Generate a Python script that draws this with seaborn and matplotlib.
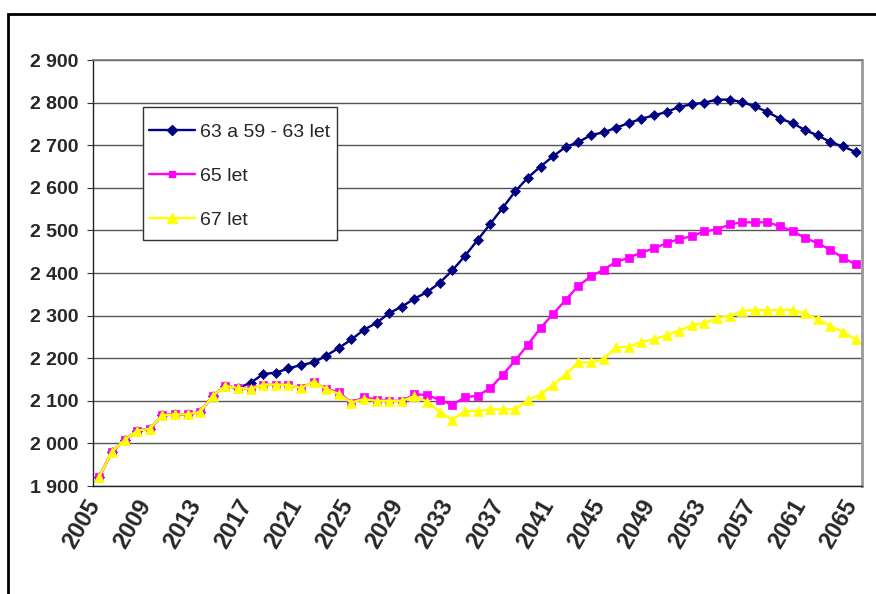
import numpy as np
import pandas as pd
import matplotlib
matplotlib.use("Agg")
import matplotlib.pyplot as plt
import matplotlib.transforms as mtransforms
from matplotlib.patches import Rectangle
from matplotlib.lines import Line2D
from matplotlib.ticker import FuncFormatter, FixedLocator
import seaborn as sns

# Years on the category axis
years = list(range(2005, 2066))

# Series values (thousands)
s_63 = [1922, 1980, 2008, 2030, 2034, 2066, 2068, 2068, 2074, 2112,
        2135, 2130, 2142, 2163, 2166, 2176, 2184, 2190, 2206, 2224,
        2244, 2267, 2283, 2306, 2321, 2340, 2355, 2377, 2406, 2440,
        2477, 2515, 2553, 2592, 2624, 2650, 2674, 2696, 2707, 2724,
        2730, 2741, 2752, 2762, 2770, 2778, 2790, 2796, 2800, 2807,
        2807, 2801, 2791, 2778, 2762, 2752, 2735, 2723, 2707, 2697,
        2684]
s_65 = [1922, 1980, 2008, 2030, 2034, 2066, 2068, 2068, 2074, 2112,
        2135, 2130, 2128, 2138, 2138, 2137, 2130, 2145, 2128, 2120,
        2096, 2108, 2103, 2100, 2100, 2115, 2114, 2102, 2091, 2108,
        2112, 2129, 2161, 2195, 2232, 2271, 2304, 2337, 2370, 2392,
        2408, 2426, 2436, 2448, 2458, 2470, 2480, 2486, 2498, 2502,
        2514, 2519, 2519, 2519, 2510, 2498, 2482, 2470, 2454, 2436,
        2420]
s_67 = [1922, 1980, 2008, 2030, 2034, 2066, 2068, 2068, 2074, 2112,
        2135, 2130, 2128, 2138, 2138, 2137, 2130, 2145, 2128, 2116,
        2096, 2104, 2100, 2100, 2100, 2111, 2098, 2074, 2055, 2076,
        2076, 2080, 2080, 2080, 2102, 2115, 2137, 2162, 2190, 2190,
        2198, 2226, 2226, 2239, 2244, 2254, 2265, 2277, 2283, 2294,
        2299, 2311, 2313, 2313, 2313, 2313, 2305, 2291, 2276, 2261,
        2244]

series_names = ["63 a 59 - 63 let", "65 let", "67 let"]
year_labels = list(range(2005, 2066, 4))
y_ticks = list(range(1900, 2901, 100))

colors = ["#000080", "#FF00FF", "#FFFF00"]
markers = ["D", "s", "^"]
marker_sizes = [5.4, 5.8, 7.8]

sns.set_style("white")
plt.rcParams["font.family"] = ["Liberation Sans", "DejaVu Sans"]

W, H = 876, 594
fig = plt.figure(figsize=(W / 100, H / 100), dpi=100)
left, right, top, bottom = 93, 862, 60, 486
ax = fig.add_axes([left / W, 1 - bottom / H, (right - left) / W, (bottom - top) / H])


def ax_x(px):
    return (px - left) / (right - left)


def ax_y(py):
    return (bottom - py) / (bottom - top)


df = pd.DataFrame({
    "year": years * 3,
    "value": s_63 + s_65 + s_67,
    "series": np.repeat(series_names, len(years)),
})

handles = []
for name, c, m, ms in zip(series_names, colors, markers, marker_sizes):
    sub = df[df["series"] == name]
    sns.lineplot(data=sub, x="year", y="value", ax=ax, color=c, marker=m,
                 markersize=ms, markeredgecolor=c, markerfacecolor=c,
                 markeredgewidth=0.5, linewidth=1.7, legend=False)
    handles.append(Line2D([], [], color=c, marker=m, markersize=ms * 0.85,
                          markeredgecolor=c, linewidth=1.7, label=name))

# Axes limits and ticks
ax.set_xlim(2004.5, 2065.5)
ax.set_ylim(1900, 2900)
ax.set_xlabel("")
ax.set_ylabel("")

ax.yaxis.set_major_locator(FixedLocator(y_ticks))
ax.yaxis.set_major_formatter(FuncFormatter(lambda v, p: f"{int(round(v)):,}".replace(",", " ")))
ax.yaxis.grid(True, color="#555555", linewidth=1)
ax.set_axisbelow(True)

ax.xaxis.set_major_locator(FixedLocator(year_labels))
ax.xaxis.set_minor_locator(FixedLocator(np.arange(2004.5, 2066, 1)))
ax.tick_params(axis="x", which="major", length=0, pad=11)
ax.tick_params(axis="x", which="minor", length=4, width=0.8, color="#606060", direction="out")
ax.tick_params(axis="y", which="major", length=4, width=0.8, color="#333333",
               direction="out", pad=6.5, left=True)

for lab in ax.get_yticklabels():
    lab.set_fontsize(14)
    lab.set_fontweight("bold")

shift = mtransforms.ScaledTranslation(-4 / 100, 0, fig.dpi_scale_trans)
for lab in ax.get_xticklabels():
    lab.set_fontsize(17)
    lab.set_fontweight("bold")
    lab.set_rotation(60)
    lab.set_ha("right")
    lab.set_va("center")
    lab.set_rotation_mode("anchor")
    lab.set_transform(lab.get_transform() + shift)

for side in ["left", "bottom"]:
    ax.spines[side].set_color("#222222")
    ax.spines[side].set_linewidth(1)
ax.spines["top"].set_color("#777777")
ax.spines["top"].set_linewidth(1.2)
ax.spines["right"].set_color("#999999")
ax.spines["right"].set_linewidth(2)

# Legend box drawn separately so the padding can differ per direction
ax.add_patch(Rectangle((ax_x(143), ax_y(240)), ax_x(337) - ax_x(143), ax_y(107) - ax_y(240),
                       transform=ax.transAxes, facecolor="white", edgecolor="#333333",
                       linewidth=1, zorder=4))
leg = ax.legend(handles=handles, loc="upper left",
                bbox_to_anchor=(ax_x(149), ax_y(123)),
                borderaxespad=0, borderpad=0, fontsize=14, frameon=False,
                handlelength=2.35, handletextpad=0.25, labelspacing=1.36)
leg.set_zorder(5)

# Outer frame around the chart
fig.add_artist(Rectangle((7.5 / W, -0.5), 2, 1 - 13.5 / H + 0.5,
                         transform=fig.transFigure, fill=False,
                         edgecolor="black", linewidth=2))

fig.savefig("out.png", dpi=100)
